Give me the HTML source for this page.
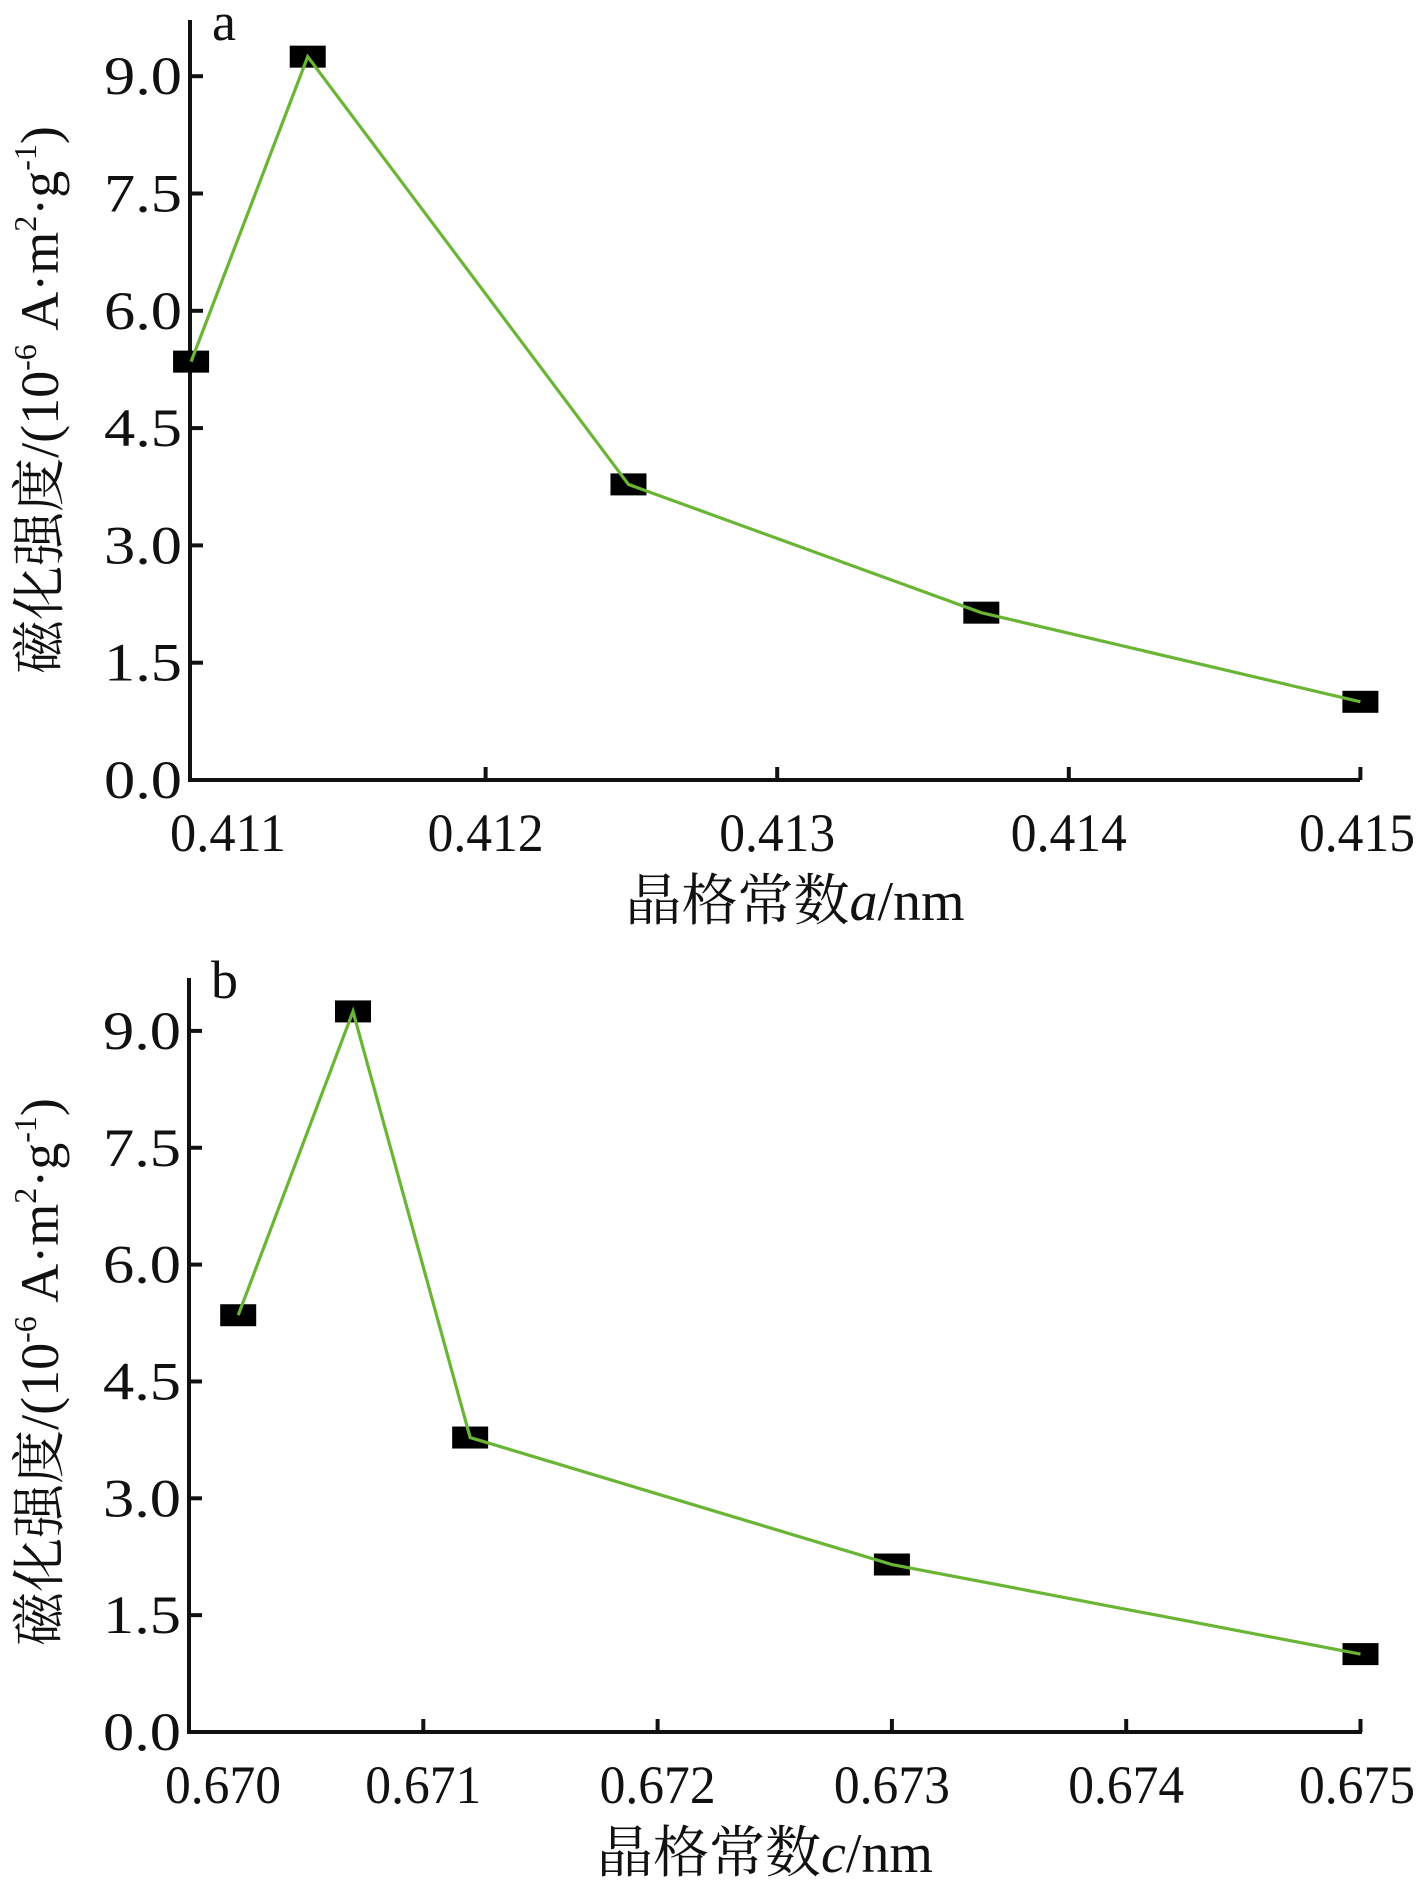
<!DOCTYPE html>
<html><head><meta charset="utf-8">
<style>
html,body{margin:0;padding:0;background:#fff;}
svg{display:block;}
text{font-family:"Liberation Serif","Noto Serif CJK SC","Noto Sans CJK SC",serif;fill:#111;}
</style></head>
<body>
<svg id="chart" width="1417" height="1890" viewBox="0 0 1417 1890" xmlns="http://www.w3.org/2000/svg"></svg>
<script>
const aValues = [0.41099, 0.41139, 0.41249, 0.4137, 0.415];
const aMag = [5.35, 9.25, 3.78, 2.14, 1.0];
const aTicks = [0.411, 0.412, 0.413, 0.414, 0.415];
const aTickLabels = ["0.411", "0.412", "0.413", "0.414", "0.415"];
const cValues = [0.67021, 0.6707, 0.6712, 0.673, 0.675];
const cMag = [5.35, 9.25, 3.78, 2.15, 1.0];
const cTicks = [0.670, 0.671, 0.672, 0.673, 0.674, 0.675];
const cTickLabels = ["0.670", "0.671", "0.672", "0.673", "0.674", "0.675"];
const yTicks = [0, 1.5, 3.0, 4.5, 6.0, 7.5, 9.0];
const yTickLabels = ["0.0", "1.5", "3.0", "4.5", "6.0", "7.5", "9.0"];

const svg = document.getElementById('chart');
const NS = 'http://www.w3.org/2000/svg';
function mk(tag, attrs, parent) {
  const e = document.createElementNS(NS, tag);
  for (const k in attrs) e.setAttribute(k, attrs[k]);
  parent.appendChild(e);
  return e;
}

function drawPanel(cfg) {
  const g = mk('g', {}, svg);
  
  
  const xs = v => cfg.x0 + (v - cfg.xMin) * cfg.xScale;
  const ys = v => cfg.y0 - v * cfg.yScale;
  const yAxis = mk('line', {x1: cfg.axisX, y1: cfg.top, x2: cfg.axisX, y2: cfg.y0 + 2, stroke: '#111', 'stroke-width': 4}, g);
  
  
  const xAxis = mk('line', {x1: cfg.axisX - 2, y1: cfg.y0, x2: cfg.right, y2: cfg.y0, stroke: '#111', 'stroke-width': 4}, g);
  
  
  yTicks.forEach((t, i) => {
    const y = ys(t);
    if (t > 0) {
      const tk = mk('line', {x1: cfg.axisX, y1: y, x2: cfg.axisX + 13, y2: y, stroke: '#111', 'stroke-width': 4}, g);
      
      
    }
    const lb = mk('text', {x: cfg.axisX - 8, y: y + 18, 'font-size': 54, 'text-anchor': 'end', textLength: 78, lengthAdjust: 'spacingAndGlyphs'}, g);
    lb.textContent = yTickLabels[i];
    
    
  });
  cfg.ticks.forEach((t, i) => {
    const x = xs(t);
    if (i > 0) {
      const tk = mk('line', {x1: x, y1: cfg.y0, x2: x, y2: cfg.y0 - 13, stroke: '#111', 'stroke-width': 4}, g);
      
      
    }
    let cx = x;
    if (i === 0) cx = x + cfg.firstLabelShift;
    if (i === cfg.ticks.length - 1) cx = Math.min(x, 1417 - 60);
    const lb = mk('text', {x: cx, y: cfg.y0 + 71, 'font-size': 54, 'text-anchor': 'middle', textLength: 116, lengthAdjust: 'spacingAndGlyphs'}, g);
    lb.textContent = cfg.tickLabels[i];
    
    
  });
  const pts = cfg.xv.map((v, i) => xs(v) + ',' + ys(cfg.yv[i])).join(' ');
  cfg.xv.forEach((v, i) => {
    const r = mk('rect', {x: xs(v) - 18, y: ys(cfg.yv[i]) - 11, width: 36, height: 22, fill: '#000'}, g);
    
    
  });
  const pl = mk('polyline', {points: pts, fill: 'none', stroke: '#6ab536', 'stroke-width': 3.2}, g);
  
  
  const pn = mk('text', {x: cfg.axisX + 22, y: cfg.top + 20, 'font-size': 54}, g);
  pn.textContent = cfg.panel;
  
  
  const xt = mk('text', {x: cfg.xTitleX, y: cfg.y0 + 140, 'font-size': 56, 'text-anchor': 'middle'}, g);
  xt.innerHTML = '晶格常数<tspan font-style="italic">' + cfg.sym + '</tspan>/nm';
  
  
  const ytl = mk('text', {x: 0, y: 0, 'font-size': 54, 'text-anchor': 'middle', transform: 'translate(' + 58 + ',' + cfg.yTitleY + ') rotate(-90)'}, g);
  ytl.innerHTML = '磁化强度/(10<tspan font-size="32" dy="-22">-6</tspan><tspan dy="22"> A·m</tspan><tspan font-size="32" dy="-22">2</tspan><tspan dy="22">·g</tspan><tspan font-size="32" dy="-22">-1</tspan><tspan dy="22">)</tspan>';
  
  
}

drawPanel({name: 'chart-a', panel: 'a', sym: 'a', xv: aValues, yv: aMag, ticks: aTicks, tickLabels: aTickLabels,
  axisX: 190, x0: 194, xMin: 0.411, xScale: 291600, y0: 780, yScale: 78.2, top: 20, right: 1360,
  firstLabelShift: 34, xTitleX: 795, yTitleY: 400});
drawPanel({name: 'chart-b', panel: 'b', sym: 'c', xv: cValues, yv: cMag, ticks: cTicks, tickLabels: cTickLabels,
  axisX: 189, x0: 189, xMin: 0.670, xScale: 234300, y0: 1732, yScale: 77.9, top: 978, right: 1362,
  firstLabelShift: 34, xTitleX: 765, yTitleY: 1372});
</script>
</body></html>
